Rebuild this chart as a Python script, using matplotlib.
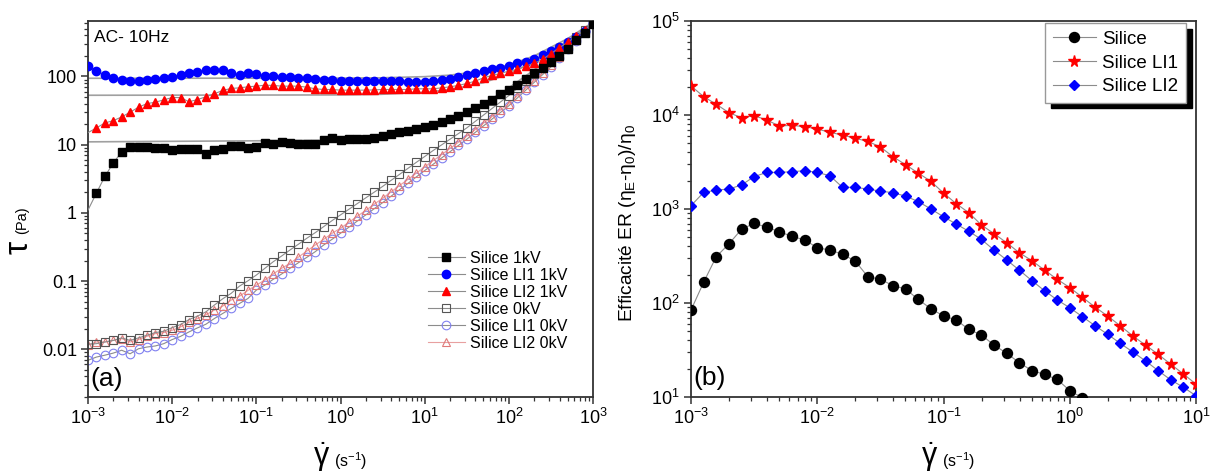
"""
Rheology of silica suspensions under AC field (10 Hz):
(a) shear stress vs shear rate, (b) ER efficiency vs shear rate.
"""

import numpy as np
import matplotlib
matplotlib.use("Agg")
import matplotlib.pyplot as plt
from matplotlib.ticker import (LogLocator, FixedLocator, FixedFormatter,
                               NullFormatter, LogFormatterSciNotation)

plt.rcParams['font.family'] = ['Liberation Sans', 'DejaVu Sans']
plt.rcParams['mathtext.fontset'] = 'custom'
plt.rcParams['mathtext.rm'] = 'Liberation Sans'
plt.rcParams['mathtext.it'] = 'Liberation Sans:italic'
plt.rcParams['mathtext.bf'] = 'Liberation Sans:bold'

# ======================================================
# DATA - panel (a): shear stress (Pa), 10 pts / decade
# ======================================================
shear_rate_a = np.logspace(-3, 3, 61)

silice_1kV = [1.1, 1.95, 3.42, 5.38, 7.82, 9.25, 9.25, 9.14, 8.84, 8.84,
              8.25, 8.73, 8.73, 8.73, 7.29, 8.25, 8.73, 9.66, 9.44, 8.94,
              9.14, 10.6, 10.2, 11.0, 10.6, 10.3, 10.3, 10.3, 11.9, 12.5,
              11.9, 12.0, 12.2, 12.2, 12.5, 13.2, 14.4, 15.2, 16.1, 17.0,
              18.2, 19.7, 21.3, 23.8, 26.7, 29.9, 34.6, 40.1, 45.9, 54.4,
              62.9, 76.2, 92.4, 113, 134, 163, 199, 255, 342, 439, 582]

silice_li1_1kV = [141, 120, 106, 94, 90, 86, 86, 88, 92.5, 94,
                  99, 106, 112, 118, 123, 123, 123, 112, 106, 112,
                  107, 103, 101, 99, 97, 96, 93.5, 92.5, 90, 88,
                  86, 86, 86, 86, 85, 85, 85, 85, 84, 84,
                  84, 85, 88, 92.5, 99, 106, 111, 120, 127, 134,
                  142, 155, 162, 178, 204, 236, 270, 320, 384, 463, 617]

silice_li2_1kV = [15, 17.6, 20.8, 22.5, 25.5, 29.9, 35.4, 40, 41.9, 45.4,
                  49.1, 49.1, 42.5, 45.9, 50.2, 55.7, 62.3, 66.7, 68.1, 70.5,
                  72.1, 74.5, 73.8, 72.1, 72.1, 72.1, 69.6, 65.9, 64.4, 64.4,
                  62.9, 63, 63, 63, 63.5, 64.4, 64.4, 64.4, 64.4, 65.9,
                  65.9, 65.9, 68.1, 70.5, 73.8, 78.9, 85.3, 95.5, 103.5, 110.8,
                  119.7, 126.7, 141.6, 155, 178, 215, 265, 315, 390, 480, 625]

silice_0kV = [0.0119, 0.0121, 0.0128, 0.0135, 0.0147, 0.0135, 0.0147, 0.0161, 0.0176, 0.0184,
              0.0208, 0.0231, 0.0273, 0.0306, 0.0354, 0.0444, 0.055, 0.066, 0.0844, 0.101,
              0.1226, 0.1535, 0.192, 0.233, 0.286, 0.347, 0.425, 0.513, 0.629, 0.771,
              0.935, 1.13, 1.37, 1.66, 2.01, 2.44, 2.99, 3.66, 4.48, 5.5,
              6.7, 8.2, 9.9, 12.0, 14.5, 17.6, 21.9, 27.2, 33.9, 42.2,
              52.5, 67, 85.5, 109, 139, 178, 228, 292, 375, 481, 617]

silice_li1_0kV = [0.0069, 0.0077, 0.0082, 0.0088, 0.0097, 0.0086, 0.0102, 0.0108, 0.0112, 0.0121,
                  0.0139, 0.0155, 0.018, 0.0206, 0.0233, 0.0282, 0.0335, 0.0397, 0.047, 0.0556,
                  0.0738, 0.0873, 0.106, 0.127, 0.154, 0.186, 0.223, 0.27, 0.338, 0.41,
                  0.502, 0.617, 0.759, 0.933, 1.15, 1.41, 1.75, 2.18, 2.70, 3.36,
                  4.17, 5.15, 6.37, 7.87, 9.73, 12.0, 15.1, 18.9, 23.7, 29.6,
                  37.2, 48.3, 62.8, 81.7, 106, 138, 185, 249, 334, 449, 603]

silice_li2_0kV = [0.0115, 0.0128, 0.0128, 0.0135, 0.0144, 0.0128, 0.0139, 0.0155, 0.017, 0.0176,
                  0.019, 0.0213, 0.0249, 0.0282, 0.032, 0.0375, 0.0429, 0.0526, 0.0601, 0.073,
                  0.0873, 0.1035, 0.127, 0.154, 0.182, 0.225, 0.276, 0.338, 0.41, 0.502,
                  0.596, 0.73, 0.893, 1.09, 1.34, 1.64, 2.03, 2.51, 3.09, 3.82,
                  4.72, 5.81, 7.14, 8.79, 10.8, 13.3, 16.6, 20.7, 25.8, 32.1,
                  40.1, 51.9, 67.1, 86.9, 112, 146, 195, 259, 347, 462, 617]

# grey fit curves
fit_rate = [1e-3, 1, 3, 10, 20, 50, 100, 200, 500, 1000]
fit_li1 = [94, 94.5, 95.6, 99.3, 104.6, 120.5, 147, 200, 359, 624]
fit_li2 = [53, 53.6, 54.7, 58.6, 64.2, 81, 109, 165, 333, 613]
fit_silice = [11, 11.6, 12.7, 16.7, 22.4, 39.5, 68, 125, 296, 581]

xticks_a = [1e-3, 1e-2, 1e-1, 1, 10, 100, 1000]
yticks_a = [0.01, 0.1, 1, 10, 100]
ylabels_a = ['0.01', '0.1', '1', '10', '100']

# ======================================================
# DATA - panel (b): ER efficiency
# ======================================================
shear_rate_b = np.logspace(-3, 1, 41)

eff_silice = [84, 166, 311, 425, 608, 705, 639, 574, 510, 470,
              387, 366, 330, 280, 191, 179, 153, 141, 109, 87,
              72.8, 66, 52.5, 45.7, 35.7, 29.2, 23.2, 19.1, 17.4, 15.4,
              11.7, 9.8]

eff_li1 = [20400, 15700, 13000, 10600, 9350, 9830, 8850, 7640, 7760, 7510,
           7100, 6540, 6120, 5650, 5250, 4570, 3600, 2960, 2410, 1970,
           1480, 1140, 915, 676, 547, 438, 343, 282, 224, 179,
           146, 115, 90.6, 72.7, 57.3, 44.6, 35.7, 28.5, 22.3, 17.6, 13.7]

eff_li2 = [1085, 1500, 1590, 1630, 1800, 2210, 2450, 2450, 2490, 2560,
           2450, 2260, 1700, 1700, 1630, 1550, 1490, 1370, 1200, 1000,
           828, 692, 580, 475, 366, 287, 224, 173, 135, 108,
           89, 71.6, 57.3, 46.5, 37.2, 30.1, 24.2, 19.1, 15.2, 12.7, 10.3]

xticks_b = [1e-3, 1e-2, 1e-1, 1, 10]
yticks_b = [10, 100, 1000, 1e4, 1e5]

# ======================================================
# FIGURE
# ======================================================
W, H = 1213, 475
fig = plt.figure(figsize=(W / 100, H / 100), dpi=100)
ax1 = fig.add_axes([88 / W, 78 / H, 505 / W, 376 / H])
ax2 = fig.add_axes([691 / W, 78 / H, 505 / W, 376 / H])

LINE_C = '#8c8c8c'
GAMMA_DOT = r'$\dot{\mathrm{\gamma}}$'

# ---------------- panel (a) ----------------
for fy in (fit_li1, fit_li2, fit_silice):
    ax1.plot(fit_rate, fy, color='#a0a0a0', lw=1.2, zorder=1.5)

ax1.plot(shear_rate_a, silice_1kV, '-s', color=LINE_C, lw=0.8, ms=5.2,
         mfc='black', mec='black', markevery=slice(1, None),
         label='Silice 1kV', zorder=3.2)
ax1.plot(shear_rate_a, silice_li1_1kV, '-o', color=LINE_C, lw=0.8, ms=6,
         mfc='#0000ff', mec='#0000ff', label='Silice LI1 1kV', zorder=3.0)
ax1.plot(shear_rate_a, silice_li2_1kV, '-^', color=LINE_C, lw=0.8, ms=6.2,
         mfc='#ff0000', mec='#ff0000', markevery=slice(1, None),
         label='Silice LI2 1kV', zorder=3.1)
ax1.plot(shear_rate_a, silice_0kV, '-s', color=LINE_C, lw=0.8, ms=5.6,
         mfc='none', mec='#555555', mew=0.8, label='Silice 0kV', zorder=2.2)
ax1.plot(shear_rate_a, silice_li1_0kV, '-o', color=LINE_C, lw=0.8, ms=6.2,
         mfc='none', mec='#8080f0', mew=0.8, label='Silice LI1 0kV', zorder=2.0)
ax1.plot(shear_rate_a, silice_li2_0kV, '-^', color='#e8a0a0', lw=0.8, ms=6.4,
         mfc='none', mec='#e07878', mew=0.8, label='Silice LI2 0kV', zorder=2.1)

ax1.set_xscale('log')
ax1.set_yscale('log')
ax1.set_xlim(1e-3, 1e3)
ax1.set_ylim(0.002, 650)
ax1.xaxis.set_major_locator(FixedLocator(xticks_a))
ax1.xaxis.set_major_formatter(LogFormatterSciNotation())
ax1.yaxis.set_major_locator(FixedLocator(yticks_a))
ax1.yaxis.set_major_formatter(FixedFormatter(ylabels_a))

leg1 = ax1.legend(loc='upper left', bbox_to_anchor=(428 / W, 1 - 251 / H),
                  bbox_transform=fig.transFigure, frameon=False, fontsize=11.5,
                  borderpad=0, borderaxespad=0, handlelength=2.3,
                  handletextpad=0.3, labelspacing=0.12)

fig.text(94 / W, 1 - 37 / H, 'AC- 10Hz', fontsize=12.5, va='center', ha='left')
fig.text(90 / W, 1 - 379 / H, '(a)', fontsize=19, va='center', ha='left')

# axis titles panel (a)
fig.text(19 / W, 1 - 247 / H, 'τ', fontsize=24, rotation=90,
         va='center', ha='center')
fig.text(22 / W, 1 - 220 / H, '(Pa)', fontsize=10.5, rotation=90,
         va='center', ha='center')
fig.text(322 / W, 1 - 457 / H, GAMMA_DOT, fontsize=22,
         va='center', ha='center')
fig.text(334 / W, 1 - 461 / H, r'(s$^{\mathdefault{-1}}$)', fontsize=11.5,
         va='center', ha='left')

# ---------------- panel (b) ----------------
ax2.plot(shear_rate_b[:len(eff_silice)], eff_silice, '-o', color=LINE_C, lw=0.8,
         ms=7.2, mfc='black', mec='black', label='Silice', zorder=3)
ax2.plot(shear_rate_b, eff_li1, '-*', color=LINE_C, lw=0.8, ms=8.5,
         mfc='#ff0000', mec='#ff0000', label='Silice LI1', zorder=3)
ax2.plot(shear_rate_b, eff_li2, '-D', color=LINE_C, lw=0.8, ms=5.2,
         mfc='#0000ff', mec='#0000ff', label='Silice LI2', zorder=3)

ax2.set_xscale('log')
ax2.set_yscale('log')
ax2.set_xlim(1e-3, 10)
ax2.set_ylim(10, 1e5)
ax2.xaxis.set_major_locator(FixedLocator(xticks_b))
ax2.xaxis.set_major_formatter(LogFormatterSciNotation())
ax2.yaxis.set_major_locator(FixedLocator(yticks_b))
ax2.yaxis.set_major_formatter(LogFormatterSciNotation())

leg2 = ax2.legend(loc='upper right', bbox_to_anchor=(1186 / W, 1 - 23 / H),
                  bbox_transform=fig.transFigure, fontsize=13.5, fancybox=False,
                  framealpha=1, edgecolor='#999999', borderpad=0.4,
                  borderaxespad=0, handlelength=2.3, handletextpad=0.35,
                  labelspacing=0.36,
                  shadow={'ox': 4, 'oy': -4, 'facecolor': 'black',
                          'edgecolor': 'black', 'alpha': 1})
leg2.get_frame().set_linewidth(1.0)

fig.text(710 / W, 1 - 378 / H, '(b)', fontsize=19, va='center', ha='center')

fig.text(627 / W, 1 - 223 / H, 'Efficacité ER (η$_\\mathdefault{E}$-η$_\\mathdefault{0}$)/η$_\\mathdefault{0}$',
         fontsize=13.8, rotation=90, va='center', ha='center')
fig.text(930 / W, 1 - 457 / H, GAMMA_DOT, fontsize=22,
         va='center', ha='center')
fig.text(942 / W, 1 - 461 / H, r'(s$^{\mathdefault{-1}}$)', fontsize=11.5,
         va='center', ha='left')

# ---------------- common axis styling ----------------
for ax in (ax1, ax2):
    for sp in ax.spines.values():
        sp.set_color('#333333')
        sp.set_linewidth(1.3)
    ax.xaxis.set_minor_locator(LogLocator(base=10, subs=np.arange(2, 10), numticks=20))
    ax.yaxis.set_minor_locator(LogLocator(base=10, subs=np.arange(2, 10), numticks=20))
    ax.xaxis.set_minor_formatter(NullFormatter())
    ax.yaxis.set_minor_formatter(NullFormatter())
    ax.tick_params(which='major', direction='out', length=5, width=1.1,
                   labelsize=13, color='#333333', pad=3,
                   top=False, right=False)
    ax.tick_params(which='minor', direction='out', length=3, width=0.9,
                   color='#333333', top=False, right=False)

fig.savefig('out.png', dpi=100)
